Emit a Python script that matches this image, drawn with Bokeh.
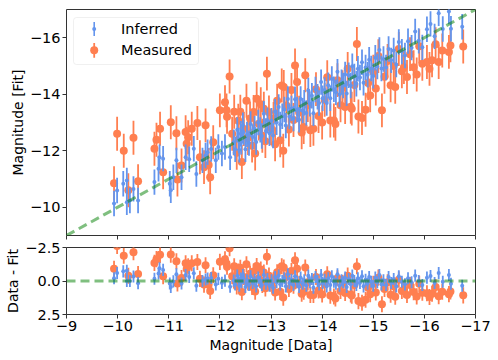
from bokeh.plotting import figure
from bokeh.layouts import column
from bokeh.models import (ColumnDataSource, Range1d, FixedTicker, BoxAnnotation,
                          Label, CustomJSTickFormatter)
from bokeh.embed import file_html
from bokeh.resources import INLINE

# ---------------- data ----------------
inf_data = [
    -9.93, -9.99, -10.11, -10.18, -10.18, -10.24, -10.31, -10.40, -10.72, -10.80,
    -10.82, -10.89, -11.02, -11.04, -11.09, -11.15, -11.25, -11.33, -11.40, -11.49,
    -11.54, -11.66, -11.72, -11.76, -11.83, -11.92, -11.97, -12.04, -12.10, -12.20,
    -12.27, -12.30, -12.34, -12.37, -12.38, -12.41, -12.42, -12.45, -12.46, -12.50,
    -12.53, -12.57, -12.60, -12.64, -12.68, -12.71, -12.75, -12.79, -12.82, -12.86,
    -12.90, -12.93, -12.97, -13.01, -13.04, -13.08, -13.11, -13.15, -13.18, -13.22,
    -13.26, -13.29, -13.33, -13.36, -13.40, -13.44, -13.47, -13.51, -13.55, -13.58,
    -13.62, -13.65, -13.69, -13.73, -13.76, -13.80, -13.83, -13.87, -13.91, -13.94,
    -13.98, -14.01, -14.05, -14.09, -14.12, -14.16, -14.19, -14.23, -14.27, -14.30,
    -14.34, -14.38, -14.41, -14.45, -14.48, -14.52, -14.56, -14.59, -14.63, -14.67,
    -14.70, -14.74, -14.78, -14.81, -14.85, -14.89, -14.92, -14.96, -15.00, -15.04,
    -15.08, -15.12, -15.16, -15.20, -15.25, -15.30, -15.35, -15.40, -15.45, -15.50,
    -15.56, -15.62, -15.68, -15.75, -15.82, -15.89, -15.96, -16.05, -16.12, -16.20,
    -16.28, -16.36, -16.48, -16.52, -16.74,
]
# plotted residual (lower panel); fit = data + residual
inf_resid = [
    -0.20, -0.60, -0.72, -0.77, 0.00, 0.00, -0.34, 0.16, -0.17, -0.56,
    -0.95, -0.83, 0.19, 0.44, 0.03, -0.51, 0.19, -0.44, -0.30, -0.58,
    0.36, 0.00, -0.11, -0.19, -0.23, 0.26, -0.16, 0.14, -0.03, 0.43,
    -0.03, 0.25, -0.40, 0.01, 0.35, -0.19, 0.10, -0.45, -0.20, 0.45,
    -0.05, 0.30, -0.35, 0.15, -0.10, 0.40, -0.25, 0.05, 0.30, -0.45,
    0.20, -0.15, 0.35, -0.05, 0.50, -0.30, 0.10, -0.40, 0.25, 0.00,
    -0.20, 0.40, -0.50, 0.15, -0.10, 0.30, -0.35, 0.05, 0.45, -0.25,
    0.20, -0.05, 0.35, -0.40, 0.10, -0.15, 0.50, -0.30, 0.00, 0.25,
    -0.45, 0.15, -0.10, 0.40, -0.20, 0.30, -0.35, 0.05, 0.20, -0.50,
    0.35, -0.05, 0.10, -0.25, 0.45, -0.15, 0.25, -0.40, 0.00, 0.30,
    -0.20, 0.15, -0.35, 0.40, -0.10, 0.20, -0.30, 0.05, 0.35, -0.25,
    0.10, -0.45, 0.25, -0.05, 0.30, -0.30, 0.15, -0.15, 0.40, -0.35,
    0.05, 0.25, -0.20, 0.10, -0.40, 0.00, 0.30, -0.25, -0.37, 0.15,
    -0.59, 0.05, -0.45, 0.20, 0.35,
]
inf_err = 0.45

meas_data = [
    -9.93, -9.99, -10.12, -10.21, -10.31, -10.40, -10.72, -10.76, -10.83, -10.89,
    -11.04, -11.15, -11.17, -11.25, -11.33, -11.35, -11.38, -11.45, -11.56, -11.61,
    -11.69, -11.72, -11.78, -11.81, -11.87, -12.00, -12.10, -12.13, -12.14, -12.19,
    -12.24, -12.28, -12.33, -12.36, -12.40, -12.43, -12.47, -12.52, -12.55, -12.59,
    -12.63, -12.66, -12.69, -12.72, -12.76, -12.80, -12.83, -12.86, -12.89, -12.92,
    -12.96, -13.00, -13.05, -13.08, -13.12, -13.18, -13.21, -13.24, -13.25, -13.30,
    -13.35, -13.40, -13.44, -13.47, -13.51, -13.55, -13.60, -13.64, -13.67, -13.72,
    -13.77, -13.83, -13.88, -13.93, -14.00, -14.05, -14.10, -14.16, -14.23, -14.26,
    -14.30, -14.36, -14.40, -14.45, -14.50, -14.56, -14.58, -14.63, -14.68, -14.71,
    -14.78, -14.85, -14.90, -14.94, -15.00, -15.05, -15.10, -15.17, -15.22, -15.28,
    -15.34, -15.40, -15.43, -15.50, -15.56, -15.60, -15.66, -15.72, -15.79, -15.85,
    -15.90, -15.96, -16.05, -16.10, -16.15, -16.22, -16.28, -16.35, -16.48, -16.51,
    -16.76,
]
meas_resid = [
    -0.92, -2.61, -1.88, -0.39, -2.15, -0.52, -1.35, -1.63, -1.95, -0.35,
    -1.97, -1.47, 0.19, -0.23, -1.33, -0.90, -1.10, -1.33, -1.42, -0.16,
    0.27, -1.18, 0.28, 0.75, -0.43, -1.43, -1.62, -1.30, -1.06, -2.44,
    -0.36, -1.10, 0.40, -0.70, -0.98, 0.83, -0.30, -1.25, 0.10, -0.55,
    0.45, -0.71, 0.79, -1.12, -0.20, -0.85, 0.30, -0.63, 0.55, -1.81,
    -0.40, 0.20, -0.08, 0.85, -0.65, 0.81, -1.10, 1.24, -1.01, -0.30,
    0.60, -0.75, 0.35, -1.55, -0.92, 0.20, 0.95, 0.80, -1.00, 0.10,
    1.04, 1.05, -0.30, 0.70, 1.00, 0.25, -0.50, 1.09, 1.16, 1.31,
    -0.20, 0.75, 0.15, 0.90, -0.40, 1.00, 1.09, 0.30, -1.10, 1.50,
    1.62, 1.40, 0.50, 0.98, 0.20, 0.85, -0.25, 1.74, 0.60, 0.10,
    1.02, 0.40, 1.17, -0.10, 0.75, 0.64, 1.05, 0.30, 0.83, 1.15,
    0.20, 0.88, 0.91, 1.20, 0.95, 0.45, 1.14, 0.80, 0.98, 0.78,
    1.07,
]
meas_err = 0.6

identity = [-9.0, -17.0]
zero_line = [0.0, 0.0]
x_ticks = [-9, -10, -11, -12, -13, -14, -15, -16, -17]
top_y_ticks = [-10, -12, -14, -16]
res_y_ticks = [-2.5, 0.0, 2.5]

series_names = ["Inferred", "Measured"]
# ----------------------------------------------------------------

BLUE = "#6495ED"
ORANGE = "#FF7F50"
FONT = "DejaVu Sans"


def make_source(data, resid, err):
    fit = [d + r for d, r in zip(data, resid)]
    return ColumnDataSource(dict(
        x=data, fit=fit,
        lo=[f - err for f in fit], hi=[f + err for f in fit],
        r=resid,
        rlo=[r - err for r in resid], rhi=[r + err for r in resid],
    ))


inf_src = make_source(inf_data, inf_resid, inf_err)
meas_src = make_source(meas_data, meas_resid, meas_err)

xr = Range1d(start=-9, end=-17)

top = figure(frame_width=409, frame_height=226, x_range=xr,
             y_range=Range1d(start=-9, end=-17),
             output_backend="svg", toolbar_location=None,
             min_border_left=66, min_border_right=23,
             min_border_top=9, min_border_bottom=6)
bot = figure(frame_width=409, frame_height=67, x_range=xr,
             y_range=Range1d(start=2.5, end=-2.5),
             output_backend="svg", toolbar_location=None,
             min_border_left=66, min_border_right=23,
             min_border_top=6, min_border_bottom=30)

for p in (top, bot):
    p.grid.visible = False
    p.outline_line_color = "#333333"
    p.outline_line_width = 1
    p.outline_line_alpha = 1
    p.background_fill_color = "white"
    p.border_fill_color = "white"
    for ax in (p.xaxis[0], p.yaxis[0]):
        ax.axis_line_color = None
        ax.major_tick_in = 0
        ax.major_tick_out = 4
        ax.major_tick_line_color = "#333333"
        ax.minor_tick_line_color = None
        ax.major_label_text_font = FONT
        ax.major_label_text_font_size = "14.5px"
        ax.major_label_text_color = "black"
        ax.major_label_standoff = 2
        ax.axis_label_text_font = FONT
        ax.axis_label_text_font_size = "14px"
        ax.axis_label_text_font_style = "normal"
        ax.axis_label_text_color = "black"
        ax.axis_label_standoff = 1
    p.xaxis[0].ticker = FixedTicker(ticks=x_ticks)
    p.xaxis[0].formatter = CustomJSTickFormatter(
        code="return tick.toFixed(0).replace('-', '\u2212');")

top.yaxis[0].ticker = FixedTicker(ticks=top_y_ticks)
top.yaxis[0].formatter = CustomJSTickFormatter(
    code="return tick.toFixed(0).replace('-', '\u2212');")
top.yaxis[0].axis_label = "Magnitude [Fit]"
# upper panel: tick marks only, no tick labels drawn
top.xaxis[0].major_label_text_font_size = "0px"
top.xaxis[0].major_label_text_color = None
top.xaxis[0].major_label_standoff = 0

bot.yaxis[0].ticker = FixedTicker(ticks=res_y_ticks)
bot.yaxis[0].formatter = CustomJSTickFormatter(
    code="return tick.toFixed(1).replace('-', '\u2212');")
bot.yaxis[0].axis_label = "Data - Fit"
bot.xaxis[0].axis_label = "Magnitude [Data]"
bot.xaxis[0].axis_label_standoff = 3

# measured first, inferred on top
top.segment(x0="x", y0="lo", x1="x", y1="hi", source=meas_src,
            line_color=ORANGE, line_width=1.8)
top.scatter("x", "fit", source=meas_src, size=8, fill_color=ORANGE,
            line_color=None)
top.segment(x0="x", y0="lo", x1="x", y1="hi", source=inf_src,
            line_color=BLUE, line_width=1.8)
top.scatter("x", "fit", source=inf_src, size=4, fill_color=BLUE,
            line_color=None)
top.line(identity, identity, line_color="green", line_alpha=0.5,
         line_width=3, line_dash="9 5")

bot.segment(x0="x", y0="rlo", x1="x", y1="rhi", source=meas_src,
            line_color=ORANGE, line_width=1.8)
bot.scatter("x", "r", source=meas_src, size=8, fill_color=ORANGE,
            line_color=None)
bot.segment(x0="x", y0="rlo", x1="x", y1="rhi", source=inf_src,
            line_color=BLUE, line_width=1.8)
bot.scatter("x", "r", source=inf_src, size=4, fill_color=BLUE,
            line_color=None)
bot.line(identity, zero_line, line_color="green", line_alpha=0.5,
         line_width=3, line_dash="9 5")

# ---- legend (screen units, relative to top frame: x from left, y from bottom)
S = dict(left_units="screen", right_units="screen",
         top_units="screen", bottom_units="screen")
top.add_layout(BoxAnnotation(left=7, right=132, top=218, bottom=171,
                             fill_color="white", fill_alpha=0.8,
                             line_color="#cccccc", line_width=1,
                             border_radius=3, **S))
# Inferred: bar + small dot
top.add_layout(BoxAnnotation(left=26.9, right=28.5, top=213.6, bottom=199.4,
                             fill_color=BLUE, fill_alpha=1, line_color=None, **S))
top.add_layout(BoxAnnotation(left=25.7, right=29.7, top=208.5, bottom=204.5,
                             fill_color=BLUE, fill_alpha=1, line_color=None,
                             border_radius=2, **S))
# Measured: bar + big dot
top.add_layout(BoxAnnotation(left=26.8, right=28.6, top=192.6, bottom=177.8,
                             fill_color=ORANGE, fill_alpha=1, line_color=None, **S))
top.add_layout(BoxAnnotation(left=23.7, right=31.7, top=189.3, bottom=181.3,
                             fill_color=ORANGE, fill_alpha=1, line_color=None,
                             border_radius=4, **S))
for name, yy in zip(series_names, [206.5, 185.3]):
    top.add_layout(Label(x=54.5, y=yy, x_units="screen", y_units="screen",
                         text=name, text_font=FONT, text_font_size="14.5px",
                         text_baseline="middle", text_align="left",
                         text_color="black"))

layout = column(top, bot, spacing=0)
open("out.html", "w").write(file_html(layout, INLINE))
